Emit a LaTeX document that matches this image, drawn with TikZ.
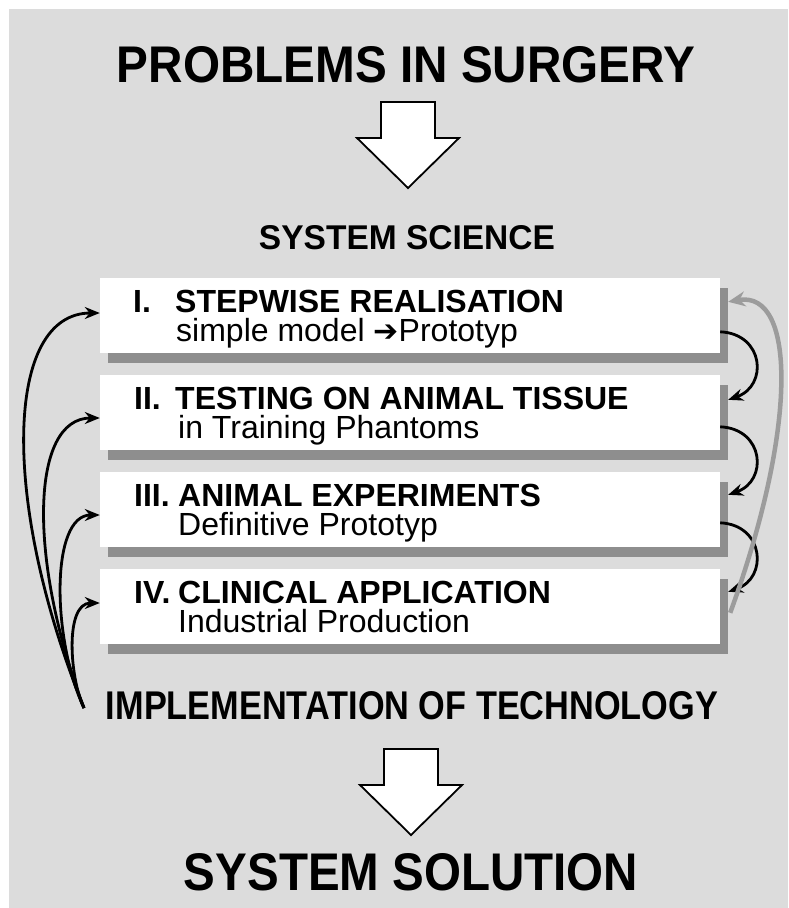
\documentclass[tikz,border=0pt]{standalone}
\usepackage{fontspec}
\setmainfont{Liberation Sans}
\newfontfamily\dejavu{DejaVu Sans}
\usetikzlibrary{arrows.meta,shadows,calc}
\definecolor{bggray}{HTML}{DCDCDC}
\definecolor{shadowgray}{HTML}{8E8E8E}
\definecolor{loopgray}{HTML}{9C9C9C}
\begin{document}
\begin{tikzpicture}[x=1pt,y=-1pt,
  stagebox/.style={fill=white, draw=none, minimum width=620pt, minimum height=75pt, inner sep=0pt,
    drop shadow={shadow xshift=8pt, shadow yshift=-10pt, fill=shadowgray, opacity=1}},
  numtext/.style={anchor=base west, inner sep=0pt, font=\bfseries\fontsize{32}{36}\selectfont},
  headtext/.style={anchor=base west, inner sep=0pt, font=\bfseries\fontsize{32}{36}\selectfont},
  subtext/.style={anchor=base west, inner sep=0pt, font=\fontsize{32}{36}\selectfont},
  bigtext/.style={anchor=base, inner sep=0pt},
  blockarrow/.style={draw=black, line width=1.8pt, fill=white, line join=miter},
  feedback/.style={line width=2.8pt, -{Stealth[length=15pt,width=12pt]}},
  loopback/.style={draw=loopgray, line width=4.5pt, -{Stealth[length=17pt,width=15pt]}}
]
\useasboundingbox (0,0) rectangle (788,908);
\fill[white] (0,0) rectangle (788,908);
\fill[bggray] (9,9) rectangle (788,908);

% headings
\node[bigtext] (title) at (406,82) {\resizebox{578pt}{36pt}{\bfseries PROBLEMS IN SURGERY}};
\node[bigtext] (science) at (407,249) {\resizebox{296pt}{24pt}{\bfseries SYSTEM SCIENCE}};
\node[bigtext] (impl) at (412,719) {\resizebox{612pt}{28pt}{\bfseries IMPLEMENTATION OF TECHNOLOGY}};
\node[bigtext] (solution) at (411,890) {\resizebox{454pt}{37pt}{\bfseries SYSTEM SOLUTION}};

% block arrows
\path[blockarrow] (381,102) -- (435,102) -- (435,138) -- (459,138) -- (408,188) -- (357,138) -- (381,138) -- cycle;
\path[blockarrow] (384,749) -- (438,749) -- (438,785) -- (462,785) -- (411,835) -- (360,785) -- (384,785) -- cycle;

% stage boxes
\node[stagebox] (b1) at (410,315.5) {};
\node[stagebox] (b2) at (410,412.5) {};
\node[stagebox] (b3) at (410,509.5) {};
\node[stagebox] (b4) at (410,606.5) {};

% texts
\node[numtext] (n1) at (133,312) {I.};
\node[headtext] (h1) at (175,312) {STEPWISE REALISATION};
\node[subtext] (s1) at (176,341) {simple model {\dejavu\fontsize{30}{32}\selectfont ➔}Prototyp};

\node[numtext] (n2) at (134,409) {II.};
\node[headtext] (h2) at (175,409) {TESTING ON ANIMAL TISSUE};
\node[subtext] (s2) at (178,438) {in Training Phantoms};

\node[numtext] (n3) at (134,506) {III.};
\node[headtext] (h3) at (178,506) {ANIMAL EXPERIMENTS};
\node[subtext] (s3) at (178,535) {Definitive Prototyp};

\node[numtext] (n4) at (134,603) {IV.};
\node[headtext] (h4) at (178,603) {CLINICAL APPLICATION};
\node[subtext] (s4) at (178,632) {Industrial Production};

% left feedback arrows
\coordinate (src) at (84,708);
\draw[feedback] (src) .. controls (0,500) and (5,313) .. ($(b1.west)+(0,-2.5)$);
\draw[feedback] (src) .. controls (28,560) and (30,418) .. ($(b2.west)+(0,5.5)$);
\draw[feedback] (src) .. controls (52,640) and (50,515) .. ($(b3.west)+(0,5.5)$);
\draw[feedback] (src) .. controls (70,680) and (64,603) .. ($(b4.west)+(0,-3.5)$);

% right step arrows
\draw[feedback] ($(b1.north east)+(0,54)$) .. controls +(44,2) and +(40,-14) .. ($(b2.north east)+(8,25)$);
\draw[feedback] ($(b2.north east)+(0,52)$) .. controls +(44,2) and +(40,-14) .. ($(b3.north east)+(8,23)$);
\draw[feedback] ($(b3.north east)+(0,51)$) .. controls +(44,2) and +(40,-14) .. ($(b4.north east)+(8,23)$);

% gray loop back
\draw[loopback] ($(b4.north east)+(10,44)$) .. controls (797,430) and (797,290) .. ($(b1.north east)+(8,24)$);
\end{tikzpicture}
\end{document}
